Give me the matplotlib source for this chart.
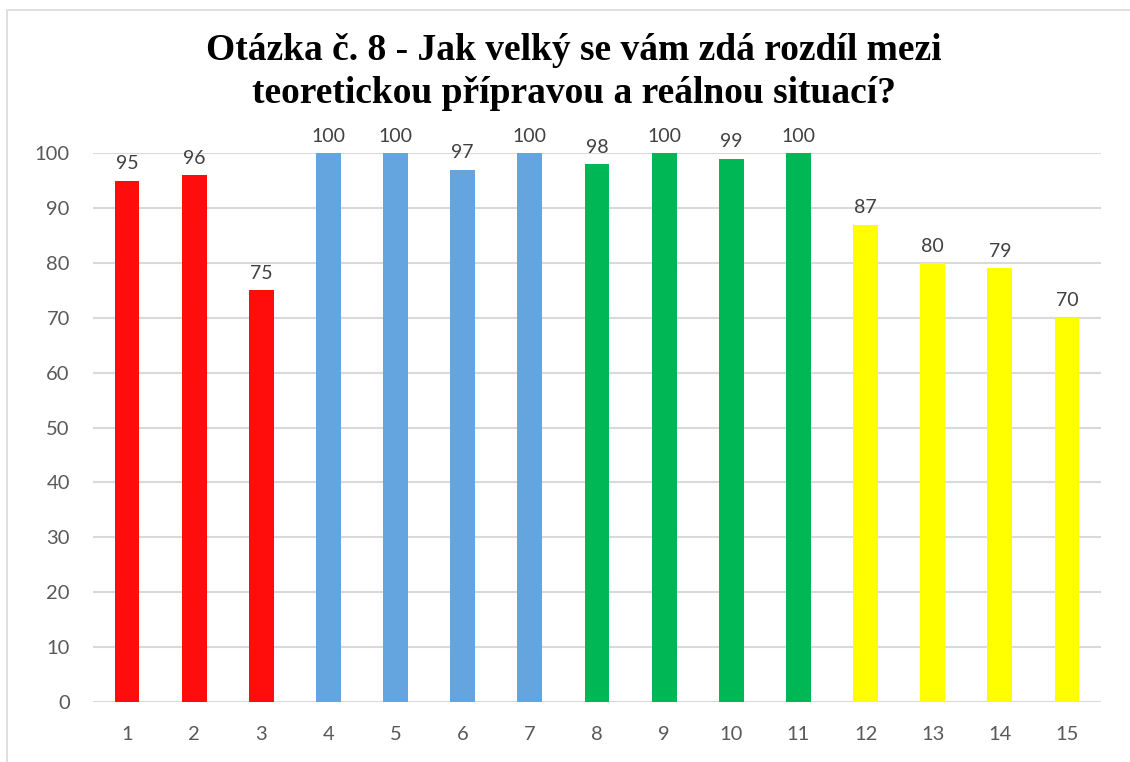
import matplotlib.pyplot as plt
import numpy as np
from matplotlib.patches import Rectangle

# data
categories = [str(i) for i in range(1, 16)]
values = [95, 96, 75, 100, 100, 97, 100, 98, 100, 99, 100, 87, 80, 79, 70]
group_colors = ["#FF0D0D"] * 3 + ["#64A5DF"] * 4 + ["#00B756"] * 4 + ["#FFFF00"] * 4
yticks = list(range(0, 101, 10))
title = "Otázka č. 8 - Jak velký se vám zdá rozdíl mezi\nteoretickou přípravou a reálnou situací?"

fig = plt.figure(figsize=(11.3, 7.62), dpi=100, facecolor="white")
ax = fig.add_axes([0.0827, 0.0787, 0.8913, 0.7203])

x = np.arange(len(categories))
ax.bar(x, values, width=0.37, color=group_colors, zorder=3)

for xi, v in zip(x, values):
    ax.annotate(str(v), (xi, v), xytext=(0, 6), textcoords="offset points",
                ha="center", va="bottom", fontsize=14, color="#404040",
                family="Lato")

ax.set_xlim(-0.5, len(categories) - 0.5)
ax.set_ylim(0, 100)
ax.set_yticks(yticks)
ax.set_xticks(x)
ax.set_xticklabels(categories)
ax.yaxis.grid(True, color="#D9D9D9", linewidth=1.5, zorder=0)
ax.set_axisbelow(True)
for side in ["top", "right", "left", "bottom"]:
    ax.spines[side].set_visible(False)
ax.tick_params(axis="both", length=0, labelsize=14.5, labelcolor="#595959")
ax.tick_params(axis="y", pad=17)
ax.tick_params(axis="x", pad=17)
for lab in ax.get_xticklabels() + ax.get_yticklabels():
    lab.set_family("Lato")

fig.text(0.508, 0.906, title, ha="center", va="center", fontsize=27,
         fontweight="bold", family="Liberation Serif", linespacing=1.3)

# chart border
fig.add_artist(Rectangle((0.0062, -0.01), 1.2, 0.997, transform=fig.transFigure,
                         fill=False, edgecolor="#D9D9D9", linewidth=1.2))

fig.savefig("out.png", dpi=100, facecolor="white")
